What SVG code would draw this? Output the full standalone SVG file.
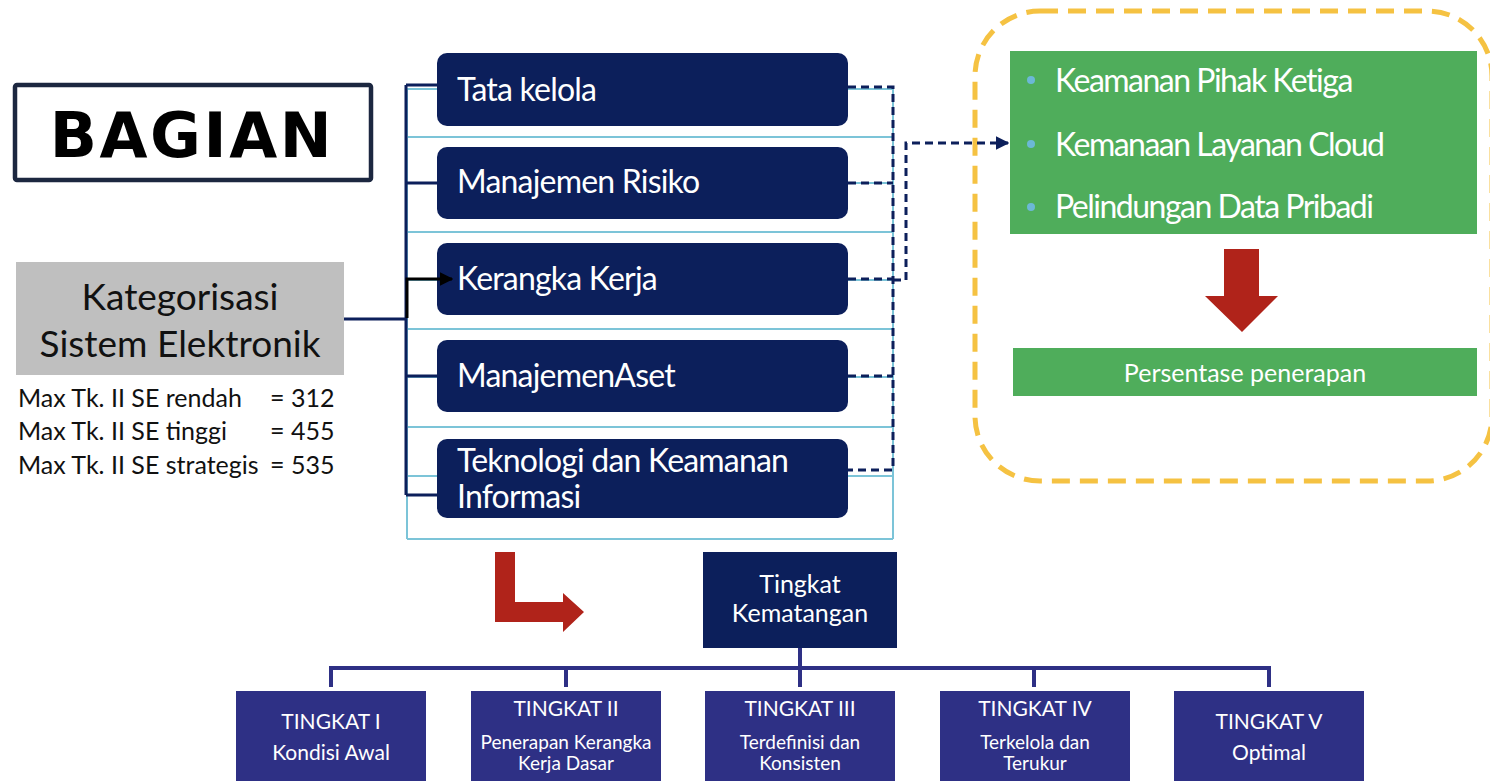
<svg xmlns="http://www.w3.org/2000/svg" width="1490" height="781" viewBox="0 0 1490 781">
  <defs>
    <style>
      .hum { font-family: Lato, "Liberation Sans", sans-serif; }
      .wt { fill: #ffffff; }
      .dk { fill: #111111; }
      .navybox { fill: #0c1f5b; }
      .lvlbox { fill: #2e3085; }
      .greenbox { fill: #4fad5b; }
      .redarrow { fill: #b0231a; }
      .grid { stroke: #7cc4d8; stroke-width: 2; fill: none; }
      .bracket { stroke: #0c1f5b; stroke-width: 3; fill: none; }
      .dash { stroke: #0c1f5b; stroke-width: 3; fill: none; stroke-dasharray: 8 5; }
      .tree { stroke: #2e3085; stroke-width: 4; fill: none; }
      .item { font-size: 32px; letter-spacing: -0.8px; }
      .aspect { font-size: 32px; letter-spacing: -1.5px; }
      .lvl1 { font-size: 21px; }
      .lvl2 { font-size: 19px; }
    </style>
    <marker id="arrowBlack" viewBox="0 0 10 10" refX="9" refY="5" markerWidth="4.5" markerHeight="4.5" orient="auto" markerUnits="strokeWidth">
      <path d="M0,0 L10,5 L0,10 z" fill="#000000"/>
    </marker>
    <marker id="arrowNavy" viewBox="0 0 10 10" refX="9" refY="5" markerWidth="4.5" markerHeight="4.5" orient="auto" markerUnits="strokeWidth">
      <path d="M0,0 L10,5 L0,10 z" fill="#0c1f5b"/>
    </marker>
  </defs>

  <rect width="1490" height="781" fill="#ffffff"/>

  <!-- light blue table grid behind the category boxes -->
  <g id="grid">
    <path class="grid" d="M407,89 H893 M407,137 H893 M407,183 H893 M407,232 H893 M407,280 H893 M407,329 H893 M407,377 H893 M407,427 H893 M407,476 H893 M407,539 H893 M407,89 V539 M893,89 V539"/>
  </g>

  <!-- header -->
  <g id="node-bagian">
    <rect x="15" y="85" width="356" height="95" fill="#ffffff" stroke="#1c2740" stroke-width="4.5" rx="2"/>
    <text x="192" y="157" text-anchor="middle" font-family="'DejaVu Sans', sans-serif" font-weight="bold" font-size="62" letter-spacing="2.6" fill="#000000">BAGIAN</text>
  </g>

  <!-- source category -->
  <g id="node-kategorisasi">
    <rect x="16" y="262" width="328" height="113" fill="#bfbfbf"/>
    <text class="hum dk" x="180" y="310" font-size="37" text-anchor="middle">Kategorisasi</text>
    <text class="hum dk" x="180" y="357" font-size="37" text-anchor="middle">Sistem Elektronik</text>
  </g>

  <g id="node-max" class="hum dk" font-size="25">
    <text x="18" y="407">Max Tk. II SE rendah<tspan x="270">= 312</tspan></text>
    <text x="18" y="440">Max Tk. II SE tinggi<tspan x="270">= 455</tspan></text>
    <text x="18" y="474">Max Tk. II SE strategis<tspan x="270">= 535</tspan></text>
  </g>

  <!-- domain boxes -->
  <g id="node-tata-kelola">
    <rect class="navybox" x="437" y="53" width="411" height="73" rx="10"/>
    <text class="hum wt item" x="457" y="101">Tata kelola</text>
  </g>
  <g id="node-manajemen-risiko">
    <rect class="navybox" x="437" y="147" width="411" height="72" rx="10"/>
    <text class="hum wt item" x="457" y="193">Manajemen Risiko</text>
  </g>
  <g id="node-kerangka-kerja">
    <rect class="navybox" x="437" y="243" width="411" height="72" rx="10"/>
    <text class="hum wt item" x="457" y="290">Kerangka Kerja</text>
  </g>
  <g id="node-manajemen-aset">
    <rect class="navybox" x="437" y="340" width="411" height="72" rx="10"/>
    <text class="hum wt item" x="457" y="387">ManajemenAset</text>
  </g>
  <g id="node-teknologi">
    <rect class="navybox" x="437" y="439" width="411" height="79" rx="10"/>
    <text class="hum wt item" x="457" y="472">Teknologi dan Keamanan</text>
    <text class="hum wt item" x="457" y="508">Informasi</text>
  </g>

  <!-- dashed frame on the right -->
  <g id="frame">
    <rect x="975" y="11" width="517" height="470" rx="65" fill="none" stroke="#f5c242" stroke-width="5" stroke-dasharray="18 10"/>
  </g>

  <g id="node-aspek">
    <rect class="greenbox" x="1010" y="51" width="467" height="183"/>
    <circle cx="1031" cy="80" r="4" fill="#6cb8d6"/>
    <circle cx="1031" cy="144" r="4" fill="#6cb8d6"/>
    <circle cx="1031" cy="207" r="4" fill="#6cb8d6"/>
    <text class="hum wt aspect" x="1055" y="92">Keamanan Pihak Ketiga</text>
    <text class="hum wt aspect" x="1055" y="156">Kemanaan Layanan Cloud</text>
    <text class="hum wt aspect" x="1055" y="218">Pelindungan Data Pribadi</text>
  </g>

  <g id="arrow-down">
    <polygon class="redarrow" points="1224,249 1259,249 1259,296 1278,296 1242,332 1205,296 1224,296"/>
  </g>

  <g id="node-persentase">
    <rect class="greenbox" x="1013" y="348" width="464" height="48"/>
    <text class="hum wt" x="1245" y="382" font-size="25" text-anchor="middle">Persentase penerapan</text>
  </g>

  <g id="arrow-bend">
    <polygon class="redarrow" points="495,552 515,552 515,602 563,602 563,593 584,612 563,632 563,622 495,622"/>
  </g>

  <!-- maturity levels -->
  <g id="node-tingkat-kematangan">
    <rect class="navybox" x="703" y="552" width="194" height="96"/>
    <text class="hum wt" x="800" y="593" font-size="25" text-anchor="middle">Tingkat</text>
    <text class="hum wt" x="800" y="622" font-size="25" text-anchor="middle">Kematangan</text>
  </g>

  <g id="node-tingkat-1">
    <rect class="lvlbox" x="236" y="691" width="190" height="100"/>
    <text class="hum wt lvl1" x="331" y="729" text-anchor="middle">TINGKAT I</text>
    <text class="hum wt lvl1" x="331" y="760" text-anchor="middle">Kondisi Awal</text>
  </g>
  <g id="node-tingkat-2">
    <rect class="lvlbox" x="471" y="691" width="190" height="100"/>
    <text class="hum wt lvl1" x="566" y="716" text-anchor="middle">TINGKAT II</text>
    <text class="hum wt lvl2" x="566" y="749" text-anchor="middle">Penerapan Kerangka</text>
    <text class="hum wt lvl2" x="566" y="770" text-anchor="middle">Kerja Dasar</text>
  </g>
  <g id="node-tingkat-3">
    <rect class="lvlbox" x="705" y="691" width="190" height="100"/>
    <text class="hum wt lvl1" x="800" y="716" text-anchor="middle">TINGKAT III</text>
    <text class="hum wt lvl2" x="800" y="749" text-anchor="middle">Terdefinisi dan</text>
    <text class="hum wt lvl2" x="800" y="770" text-anchor="middle">Konsisten</text>
  </g>
  <g id="node-tingkat-4">
    <rect class="lvlbox" x="940" y="691" width="190" height="100"/>
    <text class="hum wt lvl1" x="1035" y="716" text-anchor="middle">TINGKAT IV</text>
    <text class="hum wt lvl2" x="1035" y="749" text-anchor="middle">Terkelola dan</text>
    <text class="hum wt lvl2" x="1035" y="770" text-anchor="middle">Terukur</text>
  </g>
  <g id="node-tingkat-5">
    <rect class="lvlbox" x="1174" y="691" width="190" height="100"/>
    <text class="hum wt lvl1" x="1269" y="729" text-anchor="middle">TINGKAT V</text>
    <text class="hum wt lvl1" x="1269" y="760" text-anchor="middle">Optimal</text>
  </g>

  <!-- connectors -->
  <g id="connectors">
    <path class="bracket" d="M344,319 H406 M406,85 V495 M406,85 H437 M406,183 H437 M406,376 H437 M406,495 H437"/>
    <path d="M407,318 V279 H452" fill="none" stroke="#000000" stroke-width="3" marker-end="url(#arrowBlack)"/>
    <path class="dash" d="M848,87 H893 V470 H848 M848,183 H893 M848,279 H893 M848,376 H893"/>
    <path class="dash" d="M893,280 H906 V143 H1008" marker-end="url(#arrowNavy)"/>
    <path class="tree" d="M800,648 V668 M331,687 V668 H1269 V687 M566,668 V687 M800,668 V687 M1034,668 V687"/>
  </g>
</svg>
